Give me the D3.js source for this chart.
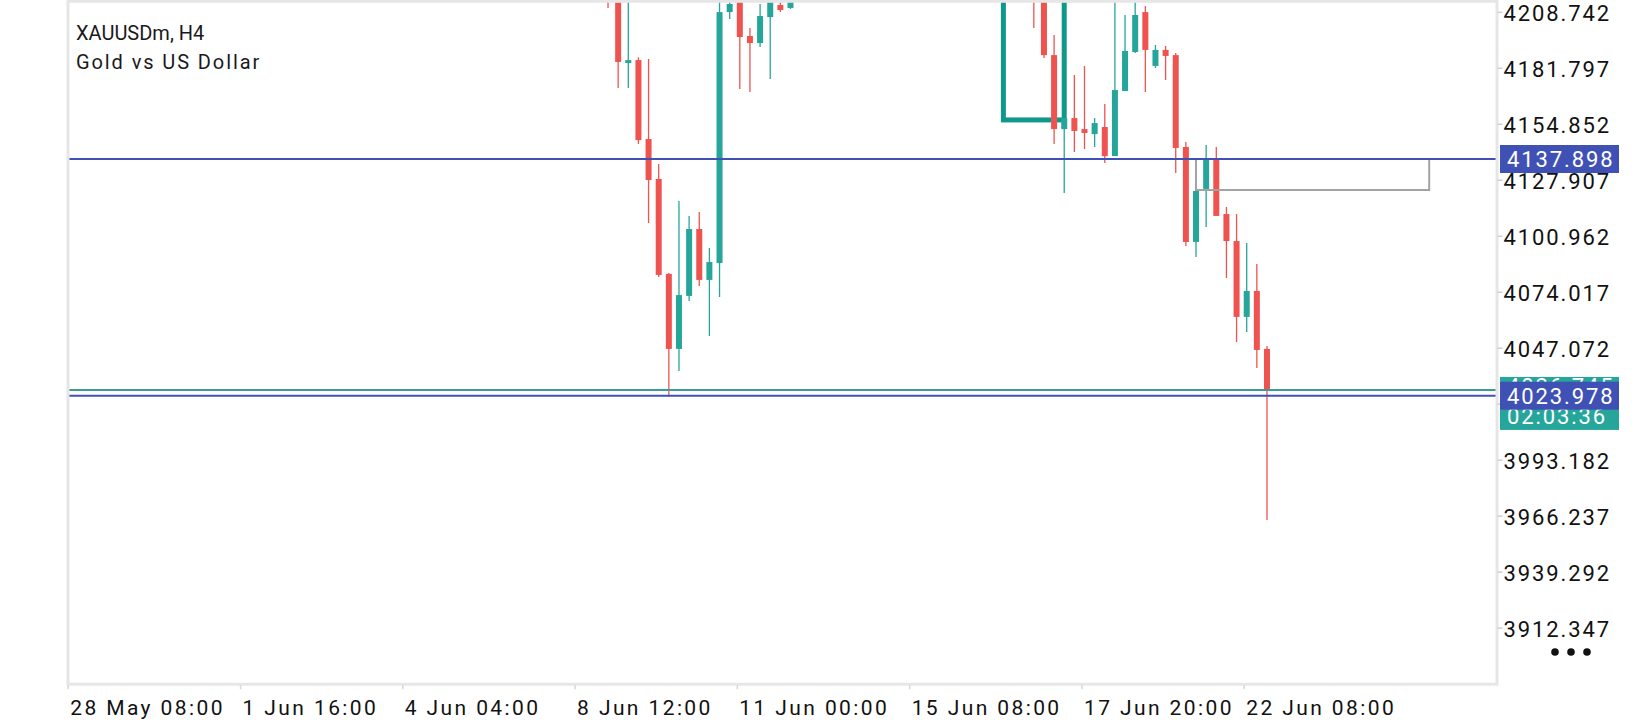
<!DOCTYPE html>
<html>
<head>
<meta charset="utf-8">
<script src="https://cdn.jsdelivr.net/npm/d3@7"></script>
<style>
  html, body { margin: 0; padding: 0; background: #fff; }
  svg { display: block; font-family: Roboto, "Noto Sans", sans-serif; }
</style>
</head>
<body>
<svg id="chart" width="1640" height="720"></svg>
<script>
// bar number (H4) of every visible candle and its OHLC
var barIndex = [53, 54, 55, 56, 57, 58, 59, 60, 61, 62, 63, 64, 65, 66, 67, 68, 69, 70, 71,
    95, 96, 97, 98, 99, 100, 101, 102, 103, 104, 105, 106, 107, 108, 109, 110, 111, 112, 113, 114, 115, 116, 117, 118];
var openP  = [4226.0, 4222.0, 4184.1, 4185.5, 4147.5, 4128.3, 4082.6, 4046.5, 4072.0, 4104.2, 4079.7, 4087.8, 4208.6, 4215.0, 4197.1, 4193.7, 4206.2, 4212.0, 4210.6,
    4232.0, 4222.0, 4187.9, 4152.3, 4157.6, 4152.3, 4149.9, 4153.3, 4139.3, 4170.6, 4189.4, 4208.6, 4182.7, 4190.4, 4187.9, 4143.7, 4098.0, 4123.5, 4137.9, 4111.4, 4098.4, 4061.9, 4074.4, 4046.5];
var highP  = [4231.0, 4225.0, 4216.0, 4186.9, 4186.0, 4135.5, 4083.0, 4117.7, 4110.5, 4112.4, 4095.1, 4218.0, 4216.0, 4218.0, 4200.9, 4212.5, 4217.0, 4216.0, 4217.0,
    4236.0, 4228.0, 4197.6, 4157.8, 4178.3, 4182.7, 4157.6, 4164.4, 4216.0, 4207.2, 4215.0, 4211.5, 4192.8, 4192.3, 4188.9, 4146.1, 4133.1, 4144.6, 4143.7, 4114.8, 4111.4, 4097.5, 4087.4, 4047.9];
var lowP   = [4210.6, 4172.1, 4172.1, 4145.1, 4107.1, 4081.1, 4023.5, 4035.9, 4069.6, 4076.8, 4052.7, 4071.5, 4205.3, 4171.6, 4170.1, 4191.8, 4176.4, 4208.6, 4210.1,
    4200.9, 4186.5, 4145.1, 4121.5, 4141.3, 4142.7, 4143.7, 4136.0, 4139.3, 4170.6, 4188.9, 4170.1, 4181.7, 4175.9, 4131.2, 4096.0, 4090.7, 4105.2, 4110.5, 4080.6, 4049.8, 4054.6, 4037.3, 3964.2];
var closeP = [4218.0, 4184.6, 4185.5, 4147.0, 4127.8, 4082.1, 4046.5, 4072.4, 4104.2, 4079.7, 4088.3, 4208.6, 4212.5, 4196.6, 4193.7, 4206.7, 4213.5, 4209.6, 4214.0,
    4222.0, 4187.9, 4152.3, 4157.6, 4151.4, 4150.4, 4155.2, 4139.3, 4171.1, 4189.9, 4207.2, 4190.4, 4190.4, 4187.5, 4143.2, 4097.95, 4122.5, 4137.9, 4110.5, 4098.4, 4061.9, 4074.4, 4046.0, 4026.7];

// price scale labels
var priceTicks = [4208.742, 4181.797, 4154.852, 4127.907, 4100.962, 4074.017, 4047.072, 4020.127, 3993.182, 3966.237, 3939.292, 3912.347];
// time scale labels
var timeTickBars = [0, 17, 33, 50, 66, 83, 100, 116];
var timeTickLabels = ["28 May 08:00", "1 Jun 16:00", "4 Jun 04:00", "8 Jun 12:00", "11 Jun 00:00", "15 Jun 08:00", "17 Jun 20:00", "22 Jun 08:00"];

// objects on chart
var levelPrices = [4137.898, 4023.978];
var bidPrice = 4026.745;
var timerText = "02:03:36";
var zoneBars = [92, 98], zonePrices = [4156.7, 4240];
var boxBars = [111, 134], boxPrices = [4122.98, 4137.898];

var data = barIndex.map((b, i) => ({ bar: b, o: openP[i], h: highP[i], l: lowP[i], c: closeP[i] }));

var svg = d3.select("#chart");
var plot = { left: 68, right: 1497, top: 1.3, bottom: 684.2 };
var up = "#26a69a", down = "#ef5350", levelColor = "#3f51b5";
var labelSpacing = "1.9px";

var x = d3.scaleLinear().domain([0, 118]).range([67.7, 67.7 + 118 * 10.138]);
var y = d3.scaleLinear().domain([3885.22, 4213.46]).range([684, 2]);
var bodyW = 6;

svg.append("clipPath").attr("id", "plotClip")
    .append("rect")
    .attr("x", plot.left).attr("y", plot.top)
    .attr("width", plot.right - plot.left).attr("height", plot.bottom - plot.top);

var g = svg.append("g").attr("clip-path", "url(#plotClip)");

// supply zone rectangle
g.append("rect")
    .attr("x", x(zoneBars[0]) + bodyW / 2)
    .attr("y", y(zonePrices[1]))
    .attr("width", x(zoneBars[1]) - x(zoneBars[0]))
    .attr("height", y(zonePrices[0]) - y(zonePrices[1]))
    .attr("fill", "none").attr("stroke", "#10998a").attr("stroke-width", 5);

// candles
var candle = g.selectAll(".candle").data(data).enter()
    .append("g").attr("class", "candle");

candle.append("line")
    .attr("x1", d => x(d.bar) + bodyW / 2).attr("x2", d => x(d.bar) + bodyW / 2)
    .attr("y1", d => y(d.h)).attr("y2", d => y(d.l))
    .attr("stroke", d => d.c >= d.o ? up : down).attr("stroke-width", 1.3);

candle.append("rect")
    .attr("x", d => x(d.bar))
    .attr("y", d => y(Math.max(d.o, d.c)))
    .attr("width", bodyW)
    .attr("height", d => Math.max(1.5, Math.abs(y(d.o) - y(d.c))))
    .attr("fill", d => d.c >= d.o ? up : down);

// gray bracket box
g.append("rect")
    .attr("x", x(boxBars[0]) + bodyW / 2)
    .attr("y", y(boxPrices[1]))
    .attr("width", x(boxBars[1]) - x(boxBars[0]))
    .attr("height", y(boxPrices[0]) - y(boxPrices[1]))
    .attr("fill", "none").attr("stroke", "#a3a3a3").attr("stroke-width", 2);

// bid line + horizontal levels
g.append("line")
    .attr("x1", plot.left).attr("x2", plot.right)
    .attr("y1", y(bidPrice)).attr("y2", y(bidPrice))
    .attr("stroke", "#3a9d90").attr("stroke-width", 2);

g.selectAll(".level").data(levelPrices).enter()
    .append("line").attr("class", "level")
    .attr("x1", plot.left).attr("x2", plot.right)
    .attr("y1", d => y(d)).attr("y2", d => y(d))
    .attr("stroke", levelColor).attr("stroke-width", 2);

// frame
svg.append("rect")
    .attr("x", plot.left).attr("y", plot.top)
    .attr("width", plot.right - plot.left).attr("height", plot.bottom - plot.top)
    .attr("fill", "none").attr("stroke", "#e6e6e6").attr("stroke-width", 3);

// price axis
var yAxis = d3.axisRight(y).tickValues(priceTicks).tickSize(5).tickPadding(1)
    .tickFormat(d3.format(".3f"));
var yg = svg.append("g").attr("transform", `translate(${plot.right + 0.5},0)`).call(yAxis);
yg.select(".domain").remove();
yg.selectAll(".tick line").attr("stroke", "#cfcfcf").attr("stroke-width", 1.5);
yg.selectAll(".tick text")
    .attr("font-family", "Roboto").attr("font-size", 22).attr("fill", "#111")
    .attr("letter-spacing", labelSpacing).attr("dy", "0.38em");

// time axis
var xAxis = d3.axisBottom(x).tickValues(timeTickBars).tickSize(4).tickPadding(6)
    .tickFormat((d, i) => timeTickLabels[i]);
var xg = svg.append("g").attr("transform", `translate(0,${plot.bottom + 1})`).call(xAxis);
xg.select(".domain").remove();
xg.selectAll(".tick line").attr("stroke", "#d6d6d6").attr("stroke-width", 1.5);
xg.selectAll(".tick text")
    .attr("text-anchor", "start").attr("x", 2)
    .attr("font-family", "Roboto").attr("font-size", 21).attr("fill", "#111")
    .attr("letter-spacing", "2.4px").attr("dy", "0.95em");

// bid label with countdown (behind) and level labels
var boxX = 1500, boxW = 119;
svg.append("rect").attr("x", boxX).attr("y", y(bidPrice) - 13).attr("width", boxW).attr("height", 53).attr("fill", up);
svg.append("text").attr("x", boxX + 7).attr("y", y(bidPrice) - 4).attr("dy", "0.38em")
    .attr("font-size", 22).attr("letter-spacing", labelSpacing).attr("fill", "#fff").text(bidPrice.toFixed(3));
svg.append("text").attr("x", boxX + 7).attr("y", y(bidPrice) + 26).attr("dy", "0.38em")
    .attr("font-size", 22).attr("letter-spacing", labelSpacing).attr("fill", "#fff").text(timerText);

levelPrices.forEach(p => {
    svg.append("rect").attr("x", boxX).attr("y", y(p) - 14).attr("width", boxW).attr("height", 28).attr("fill", levelColor);
    svg.append("text").attr("x", boxX + 7).attr("y", y(p)).attr("dy", "0.38em")
        .attr("font-size", 22).attr("letter-spacing", labelSpacing).attr("fill", "#fff").text(p.toFixed(3));
});

// symbol title
svg.append("text").attr("x", 76).attr("y", 40).attr("font-size", 20).attr("fill", "#1a1a1a").text("XAUUSDm, H4");
svg.append("text").attr("x", 76).attr("y", 69).attr("font-size", 20).attr("letter-spacing", "1.9px")
    .attr("fill", "#1a1a1a").text("Gold vs US Dollar");

// menu dots
svg.selectAll(".dot").data([0, 1, 2]).enter()
    .append("circle").attr("class", "dot")
    .attr("cx", d => 1555 + d * 16).attr("cy", 652).attr("r", 3.8).attr("fill", "#111");
</script>
</body>
</html>
